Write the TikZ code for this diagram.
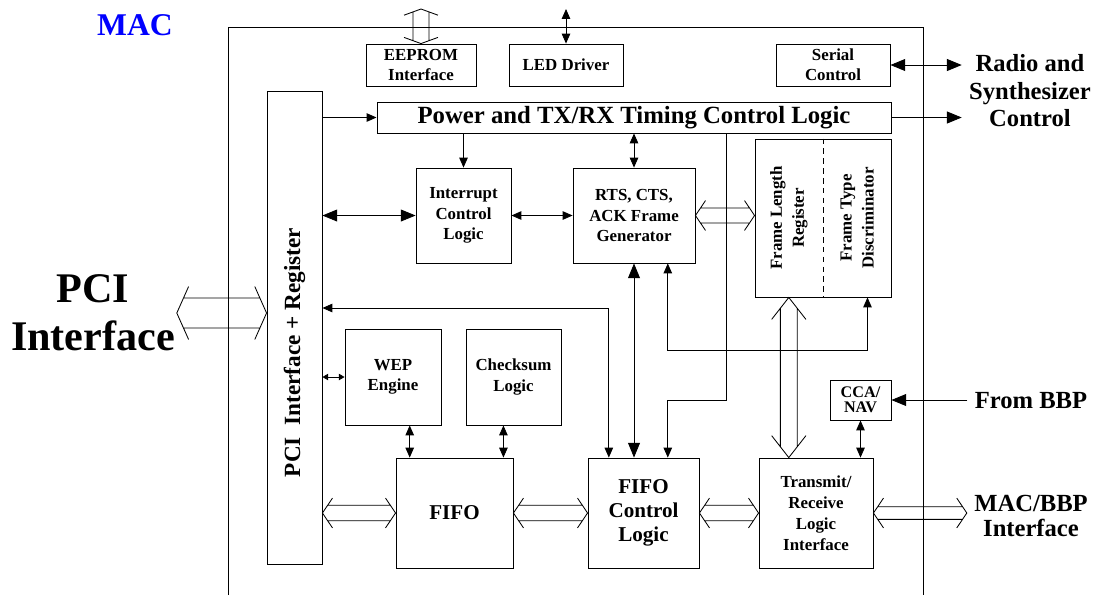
\documentclass[tikz,border=0pt]{standalone}
\usepackage{fontspec}
\setmainfont{Liberation Serif}
\usetikzlibrary{arrows.meta}
\usetikzlibrary{calc}

\tikzset{
    blk/.style={draw, inner sep=0pt, align=center,
        font=\fontsize{12}{14.5}\selectfont\bfseries},
    lbl/.style={inner sep=5pt, align=center,
        font=\fontsize{17.5}{19.6}\selectfont\bfseries},
    bigtip/.style={>={Triangle[length=10.5pt,width=8.5pt]}},
    smalltip/.style={>={Triangle[length=4pt,width=4.5pt]}},
    bus gap/.store in=\busgap, bus gap=5.5pt,
    bus head/.store in=\bushead, bus head=12.8pt,
    bus angle/.store in=\busangle, bus angle=56,
    bus/.style={to path={
        ($(\tikztostart)!{\busgap/tan(\busangle)}!(\tikztotarget)$) coordinate (busa)
        ($(\tikztotarget)!{\busgap/tan(\busangle)}!(\tikztostart)$) coordinate (busb)
        ($(busa)!\busgap!90:(\tikztotarget)$) -- ($(busb)!\busgap!-90:(\tikztostart)$)
        ($(busa)!\busgap!-90:(\tikztotarget)$) -- ($(busb)!\busgap!90:(\tikztostart)$)
        ($(\tikztostart)!\bushead!\busangle:(\tikztotarget)$) -- (\tikztostart)
            -- ($(\tikztostart)!\bushead!-\busangle:(\tikztotarget)$)
        ($(\tikztotarget)!\bushead!\busangle:(\tikztostart)$) -- (\tikztotarget)
            -- ($(\tikztotarget)!\bushead!-\busangle:(\tikztostart)$)
    }},
}

\begin{document}
\begin{tikzpicture}[x=0.025cm, y=-0.025cm, line width=0.6pt,
    >={Triangle[length=7pt,width=6pt]}]
    \useasboundingbox (0,0) rectangle (1096,595);

    % MAC frame
    \draw (228,595) -- (228,27) -- (923,27) -- (923,595);
    \node[font=\fontsize{22.5}{24}\selectfont\bfseries, text=blue] (mac) at (135,25) {MAC};

    % blocks
    \node[blk, minimum width=2.75cm, minimum height=1.05cm] (eeprom) at (421,65) {EEPROM\\Interface};
    \node[blk, minimum width=2.85cm, minimum height=1.05cm] (led) at (566,65) {LED Driver};
    \node[blk, minimum width=2.85cm, minimum height=1.05cm] (serial) at (833,65) {Serial\\Control};
    \node[blk, minimum width=1.375cm, minimum height=11.825cm] (pcireg) at (294.5,327.5) {};
    \node[rotate=90, font=\fontsize{16.5}{18}\selectfont\bfseries] (pcitext)
        at ($(pcireg.center)+(0,25)$) {PCI\ \ Interface + Register};
    \node[blk, minimum width=12.85cm, minimum height=0.775cm,
        font=\fontsize{17.6}{19}\selectfont\bfseries] (power) at (634,117.5) {Power and TX/RX Timing Control Logic};
    \node[blk, minimum width=2.375cm, minimum height=2.375cm] (intr) at (463.5,215.5) {Interrupt\\Control\\Logic};
    \node[blk, minimum width=3.05cm, minimum height=2.375cm] (rts) at (634,215.5) {RTS, CTS,\\ACK Frame\\Generator};
    \node[blk, minimum width=3.4cm, minimum height=3.95cm] (frame) at (823,218) {};
    \node[rotate=90, align=center, font=\fontsize{12}{15.6}\selectfont\bfseries] (flen)
        at ($(frame.center)!0.5!(frame.west)$) {Frame Length\\Register};
    \node[rotate=90, align=center, font=\fontsize{12}{15.6}\selectfont\bfseries] (ftype)
        at ($(frame.center)!0.5!(frame.east)$) {Frame Type\\Discriminator};
    \draw[dash pattern=on 4pt off 3pt] (frame.north) -- (frame.south);
    \node[blk, minimum width=2.4cm, minimum height=2.4cm] (wep) at (393,377) {WEP\\Engine};
    \node[blk, minimum width=2.375cm, minimum height=2.4cm] (cksum) at (513.5,377) {Checksum\\Logic};
    \node[blk, minimum width=2.925cm, minimum height=2.75cm,
        font=\fontsize{15}{17}\selectfont\bfseries] (fifo) at (454.5,513) {FIFO};
    \node[blk, minimum width=2.775cm, minimum height=2.75cm,
        font=\fontsize{15}{17}\selectfont\bfseries] (fifoctl) at (643.5,513) {FIFO\\Control\\Logic};
    \node[blk, minimum width=2.85cm, minimum height=2.75cm,
        font=\fontsize{12}{15}\selectfont\bfseries] (txrx) at (816,513) {Transmit/\\Receive\\Logic\\Interface};
    \node[blk, minimum width=1.525cm, minimum height=1cm,
        font=\fontsize{11.5}{10.5}\selectfont\bfseries] (cca) at (860.5,400) {CCA/\\NAV};

    % outside labels
    \node[lbl] (radio) at (1030,91) {Radio and\\Synthesizer\\Control};
    \node[lbl] (bbp) at (1031,401) {From BBP};
    \node[lbl, font=\fontsize{17.5}{17.8}\selectfont\bfseries] (macbbp) at (1031,516) {MAC/BBP\\Interface};
    \node[inner sep=1pt, align=center, font=\fontsize{30}{34}\selectfont\bfseries] (pcilabel)
        at (93,313) {PCI\\Interface};

    % tap points
    \coordinate (rtstap) at ($(rts.south)!0.55!(rts.south east)$);
    \coordinate (ftypetap) at ($(frame.south)!0.65!(frame.south east)$);
    \coordinate (flentap) at ($(frame.south west)!0.5!(frame.south)$);
    \coordinate (powertap) at ($(power.south)!0.36!(power.south east)$);
    \coordinate (pcitap) at ($(fifoctl.north)!0.62!(fifoctl.north west)$);
    \coordinate (fifowep) at ($(fifo.north west)!0.12!(fifo.north east)$);
    \coordinate (fifocks) at ($(fifo.north west)!0.915!(fifo.north east)$);

    % single lines
    \draw[<->] (led.north |- 0,9) -- (led.north);
    \draw[<->, bigtip] (serial.east) -- (serial.east -| radio.west);
    \draw[->] (pcireg.east |- power.west) -- (power.west);
    \draw[->, bigtip] (power.east) -- (power.east -| radio.west);
    \draw[->] (power.south -| intr.north) -- (intr.north);
    \draw[<->] (power.south -| rts.north) -- (rts.north);
    \draw[<->, bigtip] (pcireg.east |- intr.west) -- (intr.west);
    \draw[<->] (intr.east) -- (rts.west);
    \draw[<->] (rtstap) -- (rtstap |- 0,350) -| (ftypetap);
    \draw[<->, bigtip] (rts.south) -- (rts.south |- fifoctl.north);
    \draw[->] (powertap) -- (powertap |- 0,400) -| (rtstap |- fifoctl.north);
    \draw[<->] (pcireg.east |- 0,308) -| (pcitap);
    \draw[<->, smalltip] (pcireg.east |- wep.west) -- (wep.west);
    \draw[<->] (fifowep |- wep.south) -- (fifowep);
    \draw[<->] (fifocks |- cksum.south) -- (fifocks);
    \draw[<->] (cca.south) -- (cca.south |- txrx.north);
    \draw[->, bigtip] (bbp.west |- cca.east) -- (cca.east);

    % buses
    \draw[bus, bus gap=5.7pt, bus angle=70] (eeprom.north) to (eeprom.north |- 0,9);
    \draw[bus, bus gap=5.3pt] (rts.east) to (rts.east -| frame.west);
    \draw[bus, bus gap=6pt, bus head=19.8pt, bus angle=38] (flentap) to (flentap |- txrx.north);
    \draw[bus, bus gap=10.7pt, bus head=20.6pt, bus angle=66] (pcilabel.east) to (pcilabel.east -| pcireg.west);
    \draw[bus] (pcireg.east |- fifo.west) to (fifo.west);
    \draw[bus] (fifo.east) to (fifoctl.west);
    \draw[bus] (fifoctl.east) to (txrx.west);
    \draw[bus, bus gap=4.5pt] (txrx.east) to (txrx.east -| macbbp.west);
\end{tikzpicture}
\end{document}
